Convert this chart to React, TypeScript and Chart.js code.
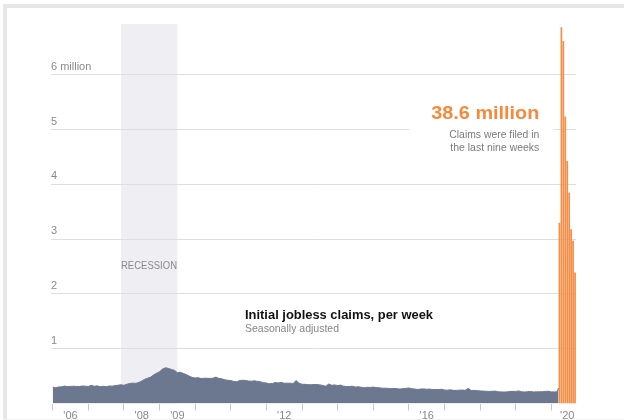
import React, { useEffect, useRef } from 'react';
import { Chart, registerables } from 'chart.js';

Chart.register(...registerables);

// ---------- data ----------
const START_YEAR = 2006;
// Weekly initial jobless claims, monthly readings (thousands), Jan 2006 .. Mar 2020
const claims2006 = [300, 288, 302, 305, 318, 309, 312, 316, 311, 309, 321, 316];
const claims2007 = [312, 332, 314, 322, 306, 316, 305, 320, 317, 326, 334, 342];
const claims2008 = [332, 352, 366, 372, 368, 384, 410, 442, 462, 482, 522, 552];
const claims2009 = [582, 628, 652, 640, 622, 606, 562, 570, 548, 528, 500, 476];
const claims2010 = [466, 472, 456, 462, 460, 458, 462, 482, 456, 450, 432, 424];
const claims2011 = [420, 402, 396, 420, 424, 420, 410, 408, 414, 404, 396, 380];
const claims2012 = [374, 360, 366, 384, 376, 384, 370, 372, 370, 366, 418, 370];
const claims2013 = [352, 350, 344, 342, 346, 346, 340, 330, 314, 356, 332, 340];
const claims2014 = [326, 336, 316, 310, 312, 314, 300, 306, 296, 286, 296, 294];
const claims2015 = [300, 290, 286, 280, 280, 276, 270, 276, 270, 264, 270, 276];
const claims2016 = [284, 270, 264, 256, 264, 266, 260, 264, 254, 256, 254, 260];
const claims2017 = [246, 244, 250, 240, 240, 244, 246, 240, 278, 236, 240, 234];
const claims2018 = [230, 226, 224, 220, 224, 226, 214, 212, 210, 212, 220, 222];
const claims2019 = [220, 230, 214, 210, 216, 220, 210, 214, 214, 216, 220, 224];
const claims2020 = [212, 212, 214];
const lastGrayWeekYear = 2020.2; // week of Mar 14, 2020
const lastGrayWeekClaims = 282;

// The last nine weeks (millions)
const surgeWeeks = ['Mar 21', 'Mar 28', 'Apr 4', 'Apr 11', 'Apr 18', 'Apr 25', 'May 2', 'May 9', 'May 16'];
const surgeClaims = [3.3, 6.87, 6.62, 5.24, 4.43, 3.85, 3.18, 2.97, 2.39];

const yTickValues = [1, 2, 3, 4, 5, 6];
const yTickLabels = ['1', '2', '3', '4', '5', '6 million'];
const yearTicks = [2006, 2007, 2008, 2009, 2010, 2011, 2012, 2013, 2014, 2015, 2016, 2017, 2018, 2019, 2020];
const xLabelYears = [2006, 2008, 2009, 2012, 2016, 2020];
const xLabelTexts = ["'06", "'08", "'09", "'12", "'16", "'20"];
const recessionStart = 2007.917;
const recessionEnd = 2009.5;

// ---------- layout ----------
const SURGE_WEEK_WIDTH = 0.0546; // stretched week width (years) for the last nine weeks
const X_MIN = 2005.952;
const X_MAX = lastGrayWeekYear + surgeClaims.length * SURGE_WEEK_WIDTH;
const FONT = "'Liberation Sans', Arial, sans-serif";

const monthly = [
  ...claims2006, ...claims2007, ...claims2008, ...claims2009, ...claims2010,
  ...claims2011, ...claims2012, ...claims2013, ...claims2014, ...claims2015,
  ...claims2016, ...claims2017, ...claims2018, ...claims2019, ...claims2020,
];

function fitText(
  ctx: CanvasRenderingContext2D,
  text: string,
  x: number,
  y: number,
  align: CanvasTextAlign,
  font: string,
  color: string,
  width: number
) {
  ctx.save();
  ctx.font = font;
  ctx.fillStyle = color;
  ctx.textBaseline = 'alphabetic';
  ctx.textAlign = align;
  const w = ctx.measureText(text).width || 1;
  ctx.translate(x, y);
  ctx.scale(width / w, 1);
  ctx.fillText(text, 0, 0);
  ctx.restore();
}

const decorPlugin = {
  id: 'decor',
  beforeDraw(chart: any) {
    const { ctx, chartArea, scales } = chart;
    const x = scales.x;
    const x0 = x.getPixelForValue(recessionStart);
    const x1 = x.getPixelForValue(recessionEnd);
    ctx.save();
    ctx.fillStyle = '#eeeef3';
    ctx.fillRect(x0, chartArea.top, x1 - x0, chartArea.bottom - chartArea.top);
    ctx.restore();
  },
  afterDraw(chart: any) {
    const { ctx, chartArea, scales } = chart;
    const x = scales.x;
    const surgeLeft = x.getPixelForValue(lastGrayWeekYear);
    // annotation backdrop (breaks the gridline)
    ctx.save();
    ctx.fillStyle = '#ffffff';
    ctx.fillRect(409, 98, surgeLeft - 5 - 409, 60);
    ctx.restore();
    const right = 539.3;
    fitText(ctx, '38.6 million', right, 119.3, 'right', `bold 19px ${FONT}`, '#f58a3c', 108);
    fitText(ctx, 'Claims were filed in', right, 137.7, 'right', `10.5px ${FONT}`, '#7a7a7a', 90);
    fitText(ctx, 'the last nine weeks', right, 151, 'right', `10.5px ${FONT}`, '#7a7a7a', 89);

    const recLeft = x.getPixelForValue(recessionStart);
    fitText(ctx, 'RECESSION', recLeft, 269.3, 'left', `10.5px ${FONT}`, '#8a8a8a', 56);

    fitText(ctx, 'Initial jobless claims, per week', 245, 319, 'left', `bold 13px ${FONT}`, '#121212', 188);
    fitText(ctx, 'Seasonally adjusted', 245, 332, 'left', `10.5px ${FONT}`, '#858585', 94);

    xLabelYears.forEach((yr, i) => {
      const pos = yr === 2020 ? lastGrayWeekYear + (surgeClaims.length / 2) * SURGE_WEEK_WIDTH : yr + 0.5;
      const px = x.getPixelForValue(pos);
      ctx.save();
      ctx.font = `11px ${FONT}`;
      ctx.fillStyle = '#888888';
      ctx.textAlign = 'center';
      ctx.textBaseline = 'alphabetic';
      ctx.fillText(xLabelTexts[i], px, chartArea.bottom + 15);
      ctx.restore();
    });
  },
};

export default function App() {
  const canvasRef = useRef<HTMLCanvasElement | null>(null);

  useEffect(() => {
    const canvas = canvasRef.current;
    if (!canvas) return;
    Chart.defaults.font.family = FONT;

    const grayPoints = monthly.map((v, i) => ({ x: START_YEAR + i / 12, y: v / 1000 }));
    grayPoints.push({ x: lastGrayWeekYear, y: lastGrayWeekClaims / 1000 });
    const surgePoints = surgeClaims.map((v, i) => ({
      x: lastGrayWeekYear + (i + 0.5) * SURGE_WEEK_WIDTH,
      y: v,
    }));

    const chart = new Chart(canvas, {
      type: 'bar',
      data: {
        datasets: [
          {
            type: 'line',
            label: 'Initial jobless claims',
            data: grayPoints,
            borderColor: '#6c7890',
            backgroundColor: '#6c7890',
            borderWidth: 1,
            pointRadius: 0,
            tension: 0,
            fill: 'origin',
          } as any,
          {
            type: 'bar',
            label: 'Last nine weeks',
            data: surgePoints,
            backgroundColor: '#f58d45',
            borderWidth: 0,
            barPercentage: 0.88,
            categoryPercentage: 1,
          } as any,
        ],
      },
      options: {
        animation: false,
        responsive: false,
        layout: { padding: { left: 51, right: 48, top: 24, bottom: 9.5 } },
        plugins: { legend: { display: false }, tooltip: { enabled: false } },
        scales: {
          x: {
            type: 'linear',
            min: X_MIN,
            max: X_MAX,
            offset: false,
            afterBuildTicks: (axis: any) => {
              axis.ticks = yearTicks.map((v) => ({ value: v }));
            },
            grid: {
              offset: false,
              drawOnChartArea: false,
              drawTicks: true,
              tickLength: 7,
              color: '#c8c8c8',
              lineWidth: 1,
            },
            border: { display: false },
            ticks: { display: false },
          },
          y: {
            type: 'linear',
            min: 0,
            max: 6.93,
            afterBuildTicks: (axis: any) => {
              axis.ticks = yTickValues.map((v) => ({ value: v }));
            },
            grid: { color: '#dedede', lineWidth: 1, drawTicks: false },
            border: { display: false },
            ticks: {
              mirror: true,
              padding: 0,
              labelOffset: -8,
              color: '#8a8a8a',
              font: { size: 11, family: FONT },
              callback: (value: any) => {
                const idx = yTickValues.indexOf(Number(value));
                return idx >= 0 ? yTickLabels[idx] : '';
              },
            },
          },
        },
      } as any,
      plugins: [decorPlugin],
    });

    return () => chart.destroy();
  }, []);

  return (
    <div style={{ position: 'absolute', left: 0, top: 0, width: 624, height: 420, background: '#fff', overflow: 'hidden' }}>
      <canvas ref={canvasRef} width={624} height={420} style={{ display: 'block', width: 624, height: 420 }} />
      <div style={{ position: 'absolute', left: 3, top: 4, width: 621, height: 4, background: '#e6e6e6' }} />
      <div style={{ position: 'absolute', left: 3, top: 4, width: 4, height: 416, background: '#e6e6e6' }} />
      <div style={{ position: 'absolute', left: 3, top: 419, width: 621, height: 1, background: '#f2f2f2' }} />
    </div>
  );
}
